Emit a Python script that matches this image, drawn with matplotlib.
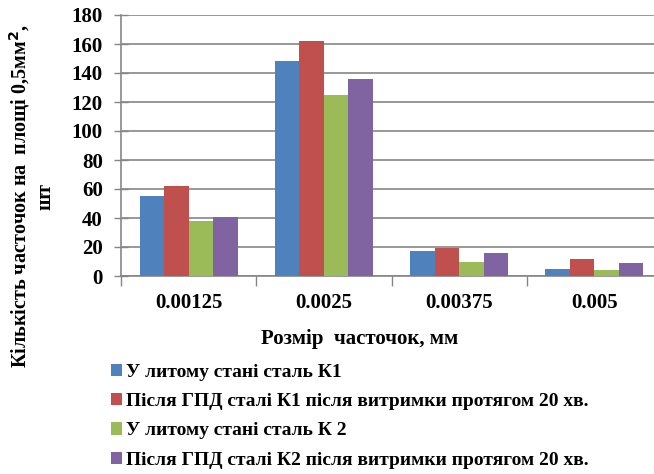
import matplotlib
matplotlib.use("Agg")
import matplotlib.pyplot as plt
from matplotlib.patches import Patch
import numpy as np

categories = ["0.00125", "0.0025", "0.00375", "0.005"]
series_names = [
    "У литому стані сталь К1",
    "Після ГПД сталі К1 після витримки протягом 20 хв.",
    "У литому стані сталь К 2",
    "Після ГПД сталі К2 після витримки протягом 20 хв.",
]
cast_k1 = [55, 148, 17, 5]
hpd_k1 = [62, 162, 19, 12]
cast_k2 = [38, 125, 10, 4]
hpd_k2 = [41, 136, 16, 9]
y_ticks = [0, 20, 40, 60, 80, 100, 120, 140, 160, 180]

series = [cast_k1, hpd_k1, cast_k2, hpd_k2]
colors = ["#4F81BD", "#C0504D", "#9BBB59", "#8064A2"]

plt.rcParams["font.family"] = ["Liberation Serif", "DejaVu Serif"]
plt.rcParams["font.weight"] = "bold"

W, H = 654, 474
fig = plt.figure(figsize=(W / 100, H / 100), dpi=100)

# plot area in pixel coordinates
left, right, top, bottom = 121, 662, 15, 276
ax = fig.add_axes([left / W, 1 - bottom / H, (right - left) / W, (bottom - top) / H])

x = np.arange(len(categories))
bw = 0.181
for i, (vals, c) in enumerate(zip(series, colors)):
    ax.bar(x + (i - 1.5) * bw, vals, width=bw, color=c, zorder=3, linewidth=0)

ax.set_xlim(-0.5, len(categories) - 0.5)
ax.set_ylim(0, 180)
ax.set_yticks(y_ticks)
ax.set_yticklabels([str(v) for v in y_ticks], fontsize=15, fontweight="bold")
ax.set_xticks(x)
ax.set_xticklabels(categories, fontsize=15, fontweight="bold")
# category separators on the x axis
ax.set_xticks(np.arange(-0.5, len(categories), 1), minor=True)
ax.tick_params(axis="x", which="major", length=0, pad=12)
ax.tick_params(axis="x", which="minor", length=7, color="#868686", width=1)
ax.tick_params(axis="y", direction="inout", length=10, color="#868686", width=1, pad=8)

ax.grid(axis="y", color="#868686", linewidth=1.2, zorder=0)
for s in ["top", "right"]:
    ax.spines[s].set_visible(False)
for s in ["left", "bottom"]:
    ax.spines[s].set_color("#868686")
    ax.spines[s].set_linewidth(1.2)

fig.text(360 / W, 1 - 339 / H, "Розмір  часточок, мм", ha="center", va="center",
         fontsize=15, fontweight="bold")

fig.text(31 / W, 1 - 196 / H, "Кількість часточок на  площі 0,5мм$^{\\mathbf{2}}$,\nшт",
         rotation=90, ha="center", va="center", multialignment="center",
         fontsize=14.5, fontweight="bold", linespacing=1.2)

handles = [Patch(facecolor=c, edgecolor="none") for c in colors]
fig.legend(handles, series_names, loc="upper left",
           bbox_to_anchor=(103 / W, 1 - 356 / H), frameon=False,
           handlelength=0.6, handleheight=0.6, handletextpad=0.2,
           labelspacing=0.63, borderaxespad=0,
           prop={"family": ["Liberation Serif"], "weight": "bold", "size": 14})

fig.savefig("out.png", dpi=100)
